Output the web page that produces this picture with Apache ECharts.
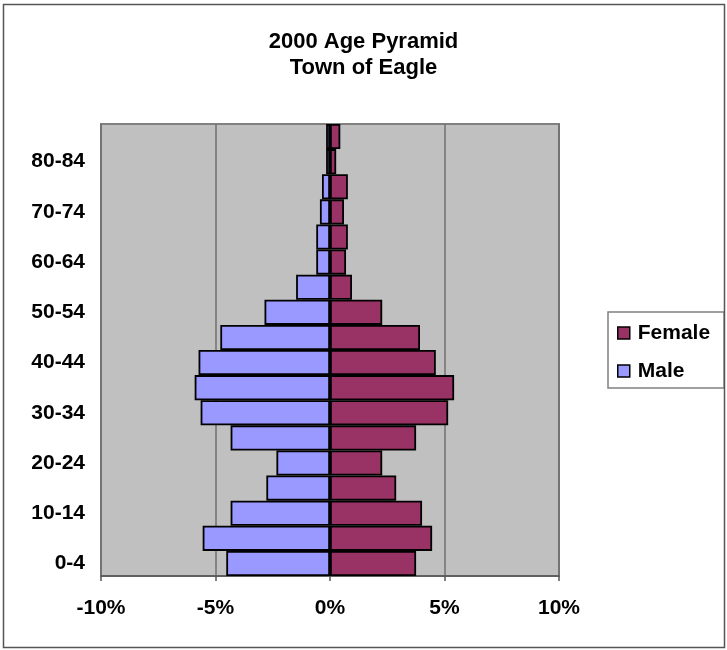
<!DOCTYPE html>
<html>
<head>
<meta charset="utf-8">
<script src="https://cdn.jsdelivr.net/npm/echarts@6/dist/echarts.min.js"></script>
<style>
html,body{margin:0;padding:0;background:#fff;}
#chart{width:727px;height:650px;}
</style>
</head>
<body>
<div id="chart"></div>
<script>
var ageGroups = ['0-4','5-9','10-14','15-19','20-24','25-29','30-34','35-39','40-44','45-49','50-54','55-59','60-64','65-69','70-74','75-79','80-84','85+'];
var femaleValues = [3.76, 4.46, 4.02, 2.89, 2.28, 3.76, 5.16, 5.42, 4.62, 3.93, 2.28, 0.96, 0.70, 0.78, 0.61, 0.78, 0.27, 0.45];
var maleValues = [-4.53, -5.56, -4.34, -2.78, -2.34, -4.34, -5.65, -5.91, -5.74, -4.79, -2.86, -1.48, -0.60, -0.60, -0.44, -0.35, -0.17, -0.17];
var xTicks = { min: -10, max: 10, interval: 5 };

var FONT = '"Liberation Sans", Arial, sans-serif';
var chart = echarts.init(document.getElementById('chart'), null, {renderer: 'canvas'});
chart.setOption({
  animation: false,
  backgroundColor: '#ffffff',
  title: {
    text: '2000 Age Pyramid\nTown of Eagle',
    left: 'center',
    top: 29,
    padding: [0, 0, 0, 9],
    textStyle: { fontFamily: FONT, fontSize: 22, fontWeight: 'bold', color: '#000', lineHeight: 26 }
  },
  legend: {
    orient: 'vertical',
    left: 608,
    top: 312,
    width: 115,
    padding: [9, 14, 5, 9],
    itemWidth: 12,
    itemHeight: 12,
    itemGap: 14,
    borderColor: '#808080',
    borderWidth: 1.5,
    backgroundColor: '#ffffff',
    icon: 'rect',
    data: ['Female', 'Male'],
    textStyle: { fontFamily: FONT, fontSize: 21, fontWeight: 'bold', color: '#000', lineHeight: 24, padding: [0,0,0,3] },
    itemStyle: { borderColor: '#000', borderWidth: 1.5 }
  },
  grid: {
    left: 101, right: 168, top: 124, bottom: 74,
    show: true,
    backgroundColor: '#c0c0c0',
    borderColor: '#808080',
    borderWidth: 2,
    containLabel: false
  },
  xAxis: {
    type: 'value',
    min: xTicks.min,
    max: xTicks.max,
    interval: xTicks.interval,
    axisLine: { show: true, onZero: false, lineStyle: { color: '#555', width: 1.5 } },
    axisTick: { show: true, length: 5, lineStyle: { color: '#555', width: 1.5 } },
    splitLine: { show: true, lineStyle: { color: '#707070', width: 1.5 } },
    axisLabel: {
      margin: 22,
      fontFamily: FONT, fontSize: 21, fontWeight: 'bold', color: '#000',
      formatter: function (v) { return v + '%'; }
    }
  },
  yAxis: {
    type: 'category',
    data: ageGroups,
    axisLine: { show: false },
    axisTick: { show: false },
    splitLine: { show: false },
    axisLabel: {
      interval: 1,
      margin: 16,
      fontFamily: FONT, fontSize: 21, fontWeight: 'bold', color: '#000'
    }
  },
  series: [
    {
      name: 'Female',
      type: 'bar',
      stack: 'pop',
      data: femaleValues,
      barWidth: '100%',
      itemStyle: { color: '#993366', borderColor: '#000', borderWidth: 1.8 }
    },
    {
      name: 'Male',
      type: 'bar',
      stack: 'pop',
      data: maleValues,
      barWidth: '100%',
      itemStyle: { color: '#9999ff', borderColor: '#000', borderWidth: 1.8 }
    }
  ],
  graphic: [
    {
      type: 'rect',
      shape: { x: 3.5, y: 4.5, width: 721, height: 643 },
      style: { fill: 'none', stroke: '#555', lineWidth: 1.5 },
      silent: true,
      z: 100
    }
  ]
});
</script>
</body>
</html>
